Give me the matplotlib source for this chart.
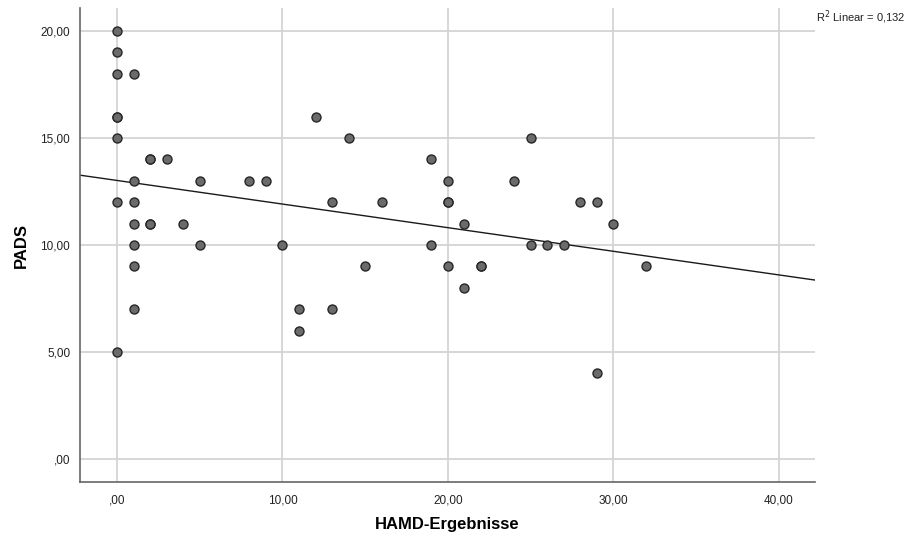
#!/usr/bin/env python3

import numpy as np
from matplotlib import pyplot as plt

plt.rcParams['font.family'] = ['Liberation Sans', 'DejaVu Sans']

# HAMD score and PADS score for each case
hamd = [0, 0, 0, 0, 0, 0, 0, 0,
        1, 1, 1, 1, 1, 1, 1,
        2, 2, 2, 2, 3, 4, 5, 5, 8, 9, 10, 11, 11, 12, 13, 13, 14, 15, 16,
        19, 19, 20, 20, 20, 20, 21, 21, 22, 22, 24, 25, 25, 26, 27, 28,
        29, 29, 30, 32]
pads = [20, 19, 18, 16, 16, 15, 12, 5,
        18, 13, 12, 11, 10, 9, 7,
        14, 14, 11, 11, 14, 11, 13, 10, 13, 13, 10, 7, 6, 16, 12, 7, 15, 9, 12,
        14, 10, 13, 12, 12, 9, 11, 8, 9, 9, 13, 15, 10, 10, 10, 12,
        12, 4, 11, 9]

x_ticks = [0, 10, 20, 30, 40]
y_ticks = [0, 5, 10, 15, 20]
r2_label = 'R$^2$ Linear = 0,132'


def comma(v):
    s = '%.2f' % v
    s = s.replace('.', ',')
    if s.startswith('0,'):
        s = s[1:]
    return s


fig = plt.figure(figsize=(9.09, 5.39), dpi=100)
ax = fig.add_axes([0.088, 0.1058, 0.8086, 0.8792])

x_min, x_max = -2.24, 42.2
ax.set_xlim(x_min, x_max)
ax.set_ylim(-1.07, 21.07)

ax.set_xticks(x_ticks)
ax.set_yticks(y_ticks)
ax.set_xticklabels([comma(v) for v in x_ticks])
ax.set_yticklabels([comma(v) for v in y_ticks])
ax.tick_params(axis='x', length=0, labelsize=8.5, colors='#222222', pad=9)
ax.tick_params(axis='y', length=0, labelsize=8.5, colors='#222222', pad=7)
ax.grid(True, color='#d4d4d4', linewidth=1.3)
ax.set_axisbelow(True)

for side in ['top', 'right']:
    ax.spines[side].set_visible(False)
for side in ['left', 'bottom']:
    ax.spines[side].set_color('#666666')
    ax.spines[side].set_linewidth(1.2)

ax.scatter(hamd, pads, s=42, color='#6b6b6b', edgecolors='#262626',
           linewidths=1.0, zorder=3)

# fit line
slope, intercept = np.polyfit(hamd, pads, 1)
xs = np.array([x_min, x_max])
ax.plot(xs, intercept + slope * xs, color='#1a1a1a', linewidth=1.0, zorder=2)

fig.text(0.4917, 0.026, 'HAMD-Ergebnisse', fontsize=12, fontweight='bold',
         ha='center', va='center')
fig.text(0.024, 0.545, 'PADS', fontsize=12, fontweight='bold',
         ha='center', va='center', rotation=90)

fig.text(0.898, 0.96, r2_label, fontsize=8, color='#222222', ha='left')

plt.savefig('out.png', dpi=100)
